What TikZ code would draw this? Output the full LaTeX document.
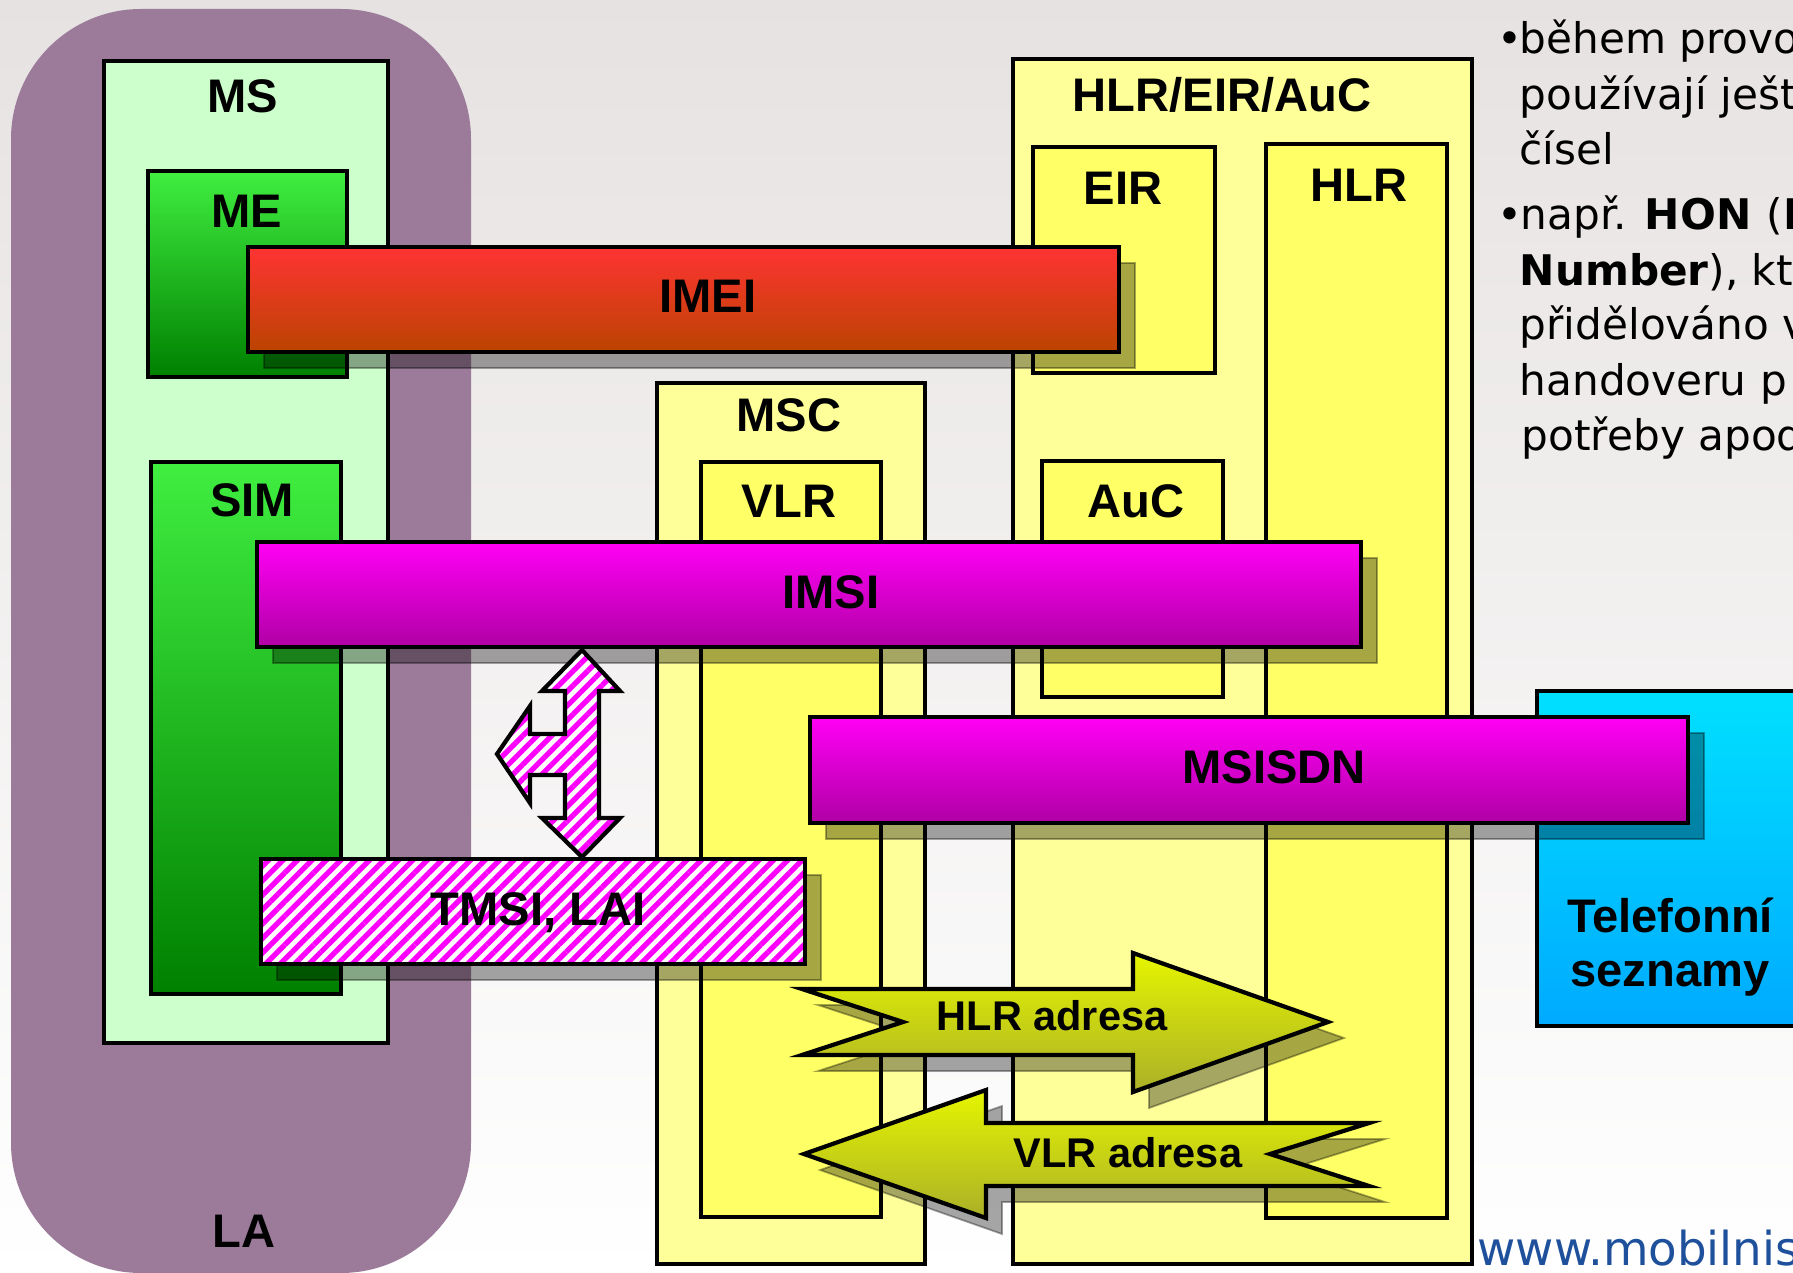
\documentclass[tikz,border=0pt]{standalone}
\usepackage{fontspec}
\setmainfont{Liberation Sans}
\newfontfamily\notefont{DejaVu Sans}
\usetikzlibrary{
    fit,
    shadows,
    patterns.meta
}

\definecolor{bgtop}{RGB}{230,226,225}
\definecolor{lapurple}{RGB}{156,123,154}
\definecolor{mslight}{RGB}{204,255,204}
\definecolor{greentop}{RGB}{64,238,64}
\definecolor{greenbot}{RGB}{0,128,0}
\definecolor{paleyellow}{RGB}{255,255,153}
\definecolor{yellowbox}{RGB}{255,255,102}
\definecolor{redtop}{RGB}{255,51,51}
\definecolor{redbot}{RGB}{187,68,0}
\definecolor{magtop}{RGB}{255,0,245}
\definecolor{magbot}{RGB}{176,0,165}
\definecolor{cyantop}{RGB}{0,224,255}
\definecolor{cyanbot}{RGB}{0,170,255}
\definecolor{arrowtop}{RGB}{230,245,0}
\definecolor{arrowbot}{RGB}{170,176,40}
\definecolor{urlblue}{RGB}{30,80,155}

\begin{document}
\begin{tikzpicture}[
    x=0.01cm,
    y=-0.01cm,
    box/.style={
        draw,
        line width=1pt,
        inner sep=0pt
    },
    outerbox/.style={box, fill=paleyellow},
    innerbox/.style={box, fill=yellowbox},
    greenbox/.style={box, top color=greentop, bottom color=greenbot},
    shadowed/.style={
        drop shadow={shadow xshift=0.16cm, shadow yshift=-0.16cm,
            fill=black, draw=black, line width=0.5pt, opacity=0.35}
    },
    bar/.style={box, line width=1.2pt, shadowed},
    hatched/.style={
        preaction={fill=white},
        pattern={Lines[angle=45, distance=2.9pt, line width=1.5pt]},
        pattern color=magenta
    },
    blockarrow/.style={
        draw,
        line width=1.2pt,
        line join=miter,
        top color=arrowtop,
        bottom color=arrowbot,
        shadowed
    },
    lbl/.style={
        font=\fontsize{13.4}{16}\selectfont\bfseries,
        inner sep=0pt,
        anchor=base
    },
    adr/.style={
        font=\fontsize{11.8}{14}\selectfont\bfseries,
        inner sep=0pt,
        anchor=base
    },
    note/.style={
        font=\notefont\fontsize{12}{15}\selectfont,
        inner sep=0pt,
        anchor=base west
    }
]

\useasboundingbox (0,0) rectangle (1793,1273);
\clip (0,0) rectangle (1793,1273);
\shade[top color=bgtop, bottom color=white] (0,0) rectangle (1793,1273);

% location area and mobile station
\node[fit={(11,9) (471,1273)}, inner sep=0pt, fill=lapurple,
    rounded corners=1.3cm] (la) {};
\node[box, fill=mslight, fit={(104,61) (388,1043)}] (ms) {};
\node[greenbox, fit={(148,171) (347,377)}] (me) {};
\node[greenbox, fit={(151,462) (341,994)}] (sim) {};

% network side
\node[outerbox, fit={(657,383) (925,1264)}] (msc) {};
\node[innerbox, fit={(701,462) (881,1217)}] (vlr) {};
\node[outerbox, fit={(1013,59) (1472,1264)}] (hlreirauc) {};
\node[innerbox, fit={(1033,147) (1215,373)}] (eir) {};
\node[innerbox, fit={(1266,144) (1447,1218)}] (hlr) {};
\node[innerbox, fit={(1042,461) (1223,697)}] (auc) {};
\node[box, top color=cyantop, bottom color=cyanbot,
    fit={(1537,691) (1840,1026)}] (phonebook) {};

% identities
\node[bar, top color=redtop, bottom color=redbot,
    fit={(248,247) (1119,352)}] (imei) {};
\node[bar, top color=magtop, bottom color=magbot,
    fit={(257,542) (1361,647)}] (imsi) {};
\node[bar, top color=magtop, bottom color=magbot,
    fit={(810,717) (1688,823)}] (msisdn) {};
\node[bar, hatched, fit={(261,859) (805,964)}] (tmsi) {};

% arrows
\draw[hatched, line width=1.2pt, line join=miter]
(582,650) -- (620,691) -- (599,691) -- (599,818) -- (620,818)
-- (582,857) -- (542,818) -- (565,818) -- (565,775) -- (530,775)
-- (530,803) -- (497,754) -- (530,706) -- (530,734) -- (565,734)
-- (565,691) -- (542,691) -- cycle;

\draw[blockarrow]
(802,989) -- (903,1022) -- (802,1055) -- (1133,1055) -- (1133,1092)
-- (1328,1022) -- (1133,953) -- (1133,989) -- cycle;

\draw[blockarrow]
(804,1154) -- (986,1090) -- (986,1123) -- (1369,1123) -- (1270,1154)
-- (1369,1186) -- (986,1186) -- (986,1218) -- cycle;

% labels
\node[lbl] (lalabel) at (244,1247) {LA};
\node[lbl] (mslabel) at (243,113) {MS};
\node[lbl] (melabel) at (247,228) {ME};
\node[lbl] (simlabel) at (252,516) {SIM};
\node[lbl] (msclabel) at (789,432) {MSC};
\node[lbl] (vlrlabel) at (789,517) {VLR};
\node[lbl] (hlreirauclabel) at (1222,112) {HLR/EIR/AuC};
\node[lbl] (eirlabel) at (1123,205) {EIR};
\node[lbl] (hlrlabel) at (1359,202) {HLR};
\node[lbl] (auclabel) at (1136,517) {AuC};
\node[lbl] (imeilabel) at (708,313) {IMEI};
\node[lbl] (imsilabel) at (831,608) {IMSI};
\node[lbl] (msisdnlabel) at (1274,783) {MSISDN};
\node[lbl] (tmsilabel) at (538,925) {TMSI, LAI};
\node[lbl] (phonelabel) at (1670,932) {Telefonní};
\node[lbl] (phonelabelb) at (1670,986) {seznamy};
\node[adr] (hlradr) at (1052,1030) {HLR adresa};
\node[adr] (vlradr) at (1128,1167) {VLR adresa};

% side text
\node[note] (dota) at (1497,54) {•};
\node[note] (notea) at (1519,54) {během provo};
\node[note] (noteb) at (1519,110) {používají ješt};
\node[note] (notec) at (1519,165) {čísel};
\node[note] (dotb) at (1497,230) {•};
\node[note] (noted) at (1520,230) {např. \textbf{HON}\hspace{0.6pt} (\textbf{H}};
\node[note] (notee) at (1519,285) {\textbf{Number}), kt};
\node[note] (notef) at (1519,340) {přidělováno v};
\node[note] (noteg) at (1519,396) {handoveru p};
\node[note] (noteh) at (1521,451) {potřeby apod};

\node[note, text=urlblue, font=\notefont\fontsize{13.3}{15}\selectfont]
(url) at (1477,1265) {www.mobilnis};

\end{tikzpicture}
\end{document}
